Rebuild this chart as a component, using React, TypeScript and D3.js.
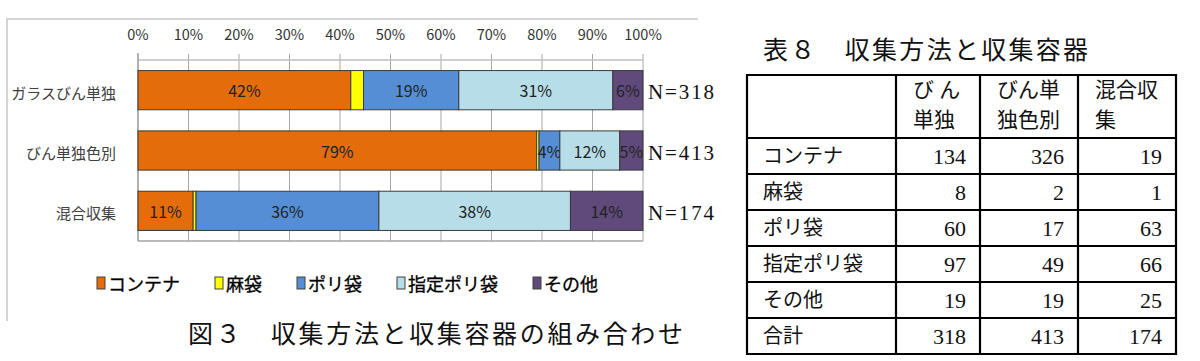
import React from "react";
import * as d3 from "d3";

const categories = ["ガラスびん単独", "びん単独色別", "混合収集"];
const containers = ["コンテナ", "麻袋", "ポリ袋", "指定ポリ袋", "その他"];
const glassOnly = [134, 8, 60, 97, 19];
const byColor = [326, 2, 17, 49, 19];
const mixed = [19, 1, 63, 66, 25];
const totals = [318, 413, 174];
const tickValues = [0, 0.1, 0.2, 0.3, 0.4, 0.5, 0.6, 0.7, 0.8, 0.9, 1];
const tickLabels = ["0%", "10%", "20%", "30%", "40%", "50%", "60%", "70%", "80%", "90%", "100%"];
const colors = ["#E46C0A", "#FFFF00", "#558ED5", "#B7DEE8", "#604A7B"];
const tableTitle = "表８　収集方法と収集容器";
const tableHeaders = [["び ん", "単独"], ["びん単", "独色別"], ["混合収", "集"]];
const totalLabel = "合計";
const chartCaption = "図３　収集方法と収集容器の組み合わせ";

const SANS = "'Noto Sans CJK JP', 'Noto Sans', sans-serif";
const SERIF = "'Liberation Serif', 'Noto Sans CJK JP', serif";

export default function App() {
  const series = [glassOnly, byColor, mixed];
  const rows = categories.map((c, i) => {
    const o: any = { cat: c };
    containers.forEach((k, j) => (o[k] = series[i][j]));
    return o;
  });
  const stacked = d3.stack<any>().keys(containers).offset(d3.stackOffsetExpand)(rows);

  const x = d3.scaleLinear().domain([0, 1]).range([138, 643]);
  const y = d3.scaleBand<string>().domain(categories).range([60, 241]).paddingInner(0.35).paddingOuter(0.175);
  const bw = y.bandwidth();
  const pct = d3.format(".0%");

  // legend layout
  const legFont = 18;
  let lx = 97;
  const legendItems = containers.map((c, i) => {
    const item = { c, i, sx: lx, tx: lx + 11 };
    lx = lx + 11 + c.length * legFont + 35;
    return item;
  });

  // table layout
  const colX = [747, 896, 980, 1078, 1176];
  const headTop = 75;
  const headBottom = 138;
  const rowH = 36;
  const tableRows = containers.map((c, j) => ({ label: c, vals: series.map((s) => s[j]) }));
  tableRows.push({ label: totalLabel, vals: totals });
  const rowY = (i: number) => headBottom + i * rowH;
  const tableBottom = rowY(tableRows.length);

  return (
    <svg width={1200} height={361} style={{ position: "absolute", left: 0, top: 0, background: "#fff" }}>
      <rect x={0} y={0} width={1200} height={361} fill="#fff" />
      {/* chart frame */}
      <line x1={7} x2={698} y1={19} y2={19} stroke="#d4d4d4" strokeWidth={2} />
      <line x1={7} x2={7} y1={18} y2={321} stroke="#d4d4d4" strokeWidth={2} />

      {/* gridlines */}
      {tickValues.map((t, i) => (
        <line key={"g" + i} x1={x(t)} x2={x(t)} y1={54} y2={241} stroke="#a6a6a6" strokeWidth={1} />
      ))}
      <line x1={x(0)} x2={x(1)} y1={60} y2={60} stroke="#bfbfbf" strokeWidth={1.5} />
      <line x1={x(0)} x2={x(1)} y1={241} y2={241} stroke="#a6a6a6" strokeWidth={1.5} />
      <line x1={x(0)} x2={x(0)} y1={53} y2={241} stroke="#a6a6a6" strokeWidth={1.5} />

      {/* tick labels */}
      {tickValues.map((t, i) => (
        <text key={"t" + i} x={x(t)} y={33} textAnchor="middle" dominantBaseline="central"
          fontFamily={SANS} fontSize={14.5} fill="#333">{tickLabels[i]}</text>
      ))}

      {/* bars */}
      {stacked.map((s, si) => (
        <g key={"s" + si}>
          {s.map((d, di) => {
            const x0 = x(d[0]);
            const x1 = x(d[1]);
            const yy = y(categories[di])!;
            return (
              <g key={di}>
                <rect x={x0} y={yy} width={x1 - x0} height={bw} fill={colors[si]} stroke="#3a3a3a" strokeWidth={1} />
                {si !== 1 && (
                  <text x={(x0 + x1) / 2} y={yy + bw / 2} textAnchor="middle" dominantBaseline="central"
                    fontFamily={SANS} fontSize={16} fill="#222">{pct(d[1] - d[0])}</text>
                )}
              </g>
            );
          })}
        </g>
      ))}

      {/* category labels */}
      {categories.map((c, i) => (
        <text key={"c" + i} x={116} y={y(c)! + bw / 2 + 2} textAnchor="end" dominantBaseline="central"
          fontFamily={SANS} fontSize={15} fill="#404040">{c}</text>
      ))}

      {/* N labels */}
      {categories.map((c, i) => (
        <text key={"n" + i} x={648} y={y(c)! + bw / 2 + 2} dominantBaseline="central"
          fontFamily={SERIF} fontSize={21} fill="#111" textLength={66} lengthAdjust="spacing">{"N=" + totals[i]}</text>
      ))}

      {/* legend */}
      {legendItems.map((it) => (
        <g key={"l" + it.i}>
          <rect x={it.sx} y={277} width={8} height={12} fill={colors[it.i]} stroke="#404040" strokeWidth={1} />
          <text x={it.tx} y={283} dominantBaseline="central" fontFamily={SANS} fontSize={legFont} fill="#000"
            stroke="#000" strokeWidth={0.3}>{it.c}</text>
        </g>
      ))}

      {/* caption */}
      <text x={188} y={334} dominantBaseline="central" fontFamily={SERIF} fontSize={25} fill="#111"
        textLength={495} lengthAdjust="spacing">{chartCaption}</text>

      {/* table title */}
      <text x={763} y={50} dominantBaseline="central" fontFamily={SERIF} fontSize={25} fill="#111"
        textLength={325} lengthAdjust="spacing">{tableTitle}</text>

      {/* table */}
      <g>
        {tableHeaders.map((h, ci) =>
          h.map((line, li) => (
            <text key={"h" + ci + li} x={colX[ci + 1] + 17} y={90 + li * 30} dominantBaseline="central"
              fontFamily={SERIF} fontSize={21} fill="#111">{line}</text>
          ))
        )}
        {tableRows.map((r, ri) => (
          <g key={"r" + ri}>
            <text x={colX[0] + 16} y={rowY(ri) + rowH / 2} dominantBaseline="central"
              fontFamily={SERIF} fontSize={20} fill="#111">{r.label}</text>
            {r.vals.map((v, vi) => (
              <text key={vi} x={colX[vi + 2] - 14} y={rowY(ri) + rowH / 2} textAnchor="end" dominantBaseline="central"
                fontFamily={SERIF} fontSize={22} fill="#111">{v}</text>
            ))}
          </g>
        ))}
        {/* horizontal lines */}
        {[headTop, ...tableRows.map((_, i) => rowY(i)), tableBottom].map((yy, i) => (
          <line key={"hl" + i} x1={colX[0]} x2={colX[colX.length - 1]} y1={yy} y2={yy} stroke="#000" strokeWidth={2.2} />
        ))}
        {colX.map((xx, i) => (
          <line key={"vl" + i} x1={xx} x2={xx} y1={headTop - 1.1} y2={tableBottom + 1.1} stroke="#000" strokeWidth={2.2} />
        ))}
      </g>
    </svg>
  );
}
